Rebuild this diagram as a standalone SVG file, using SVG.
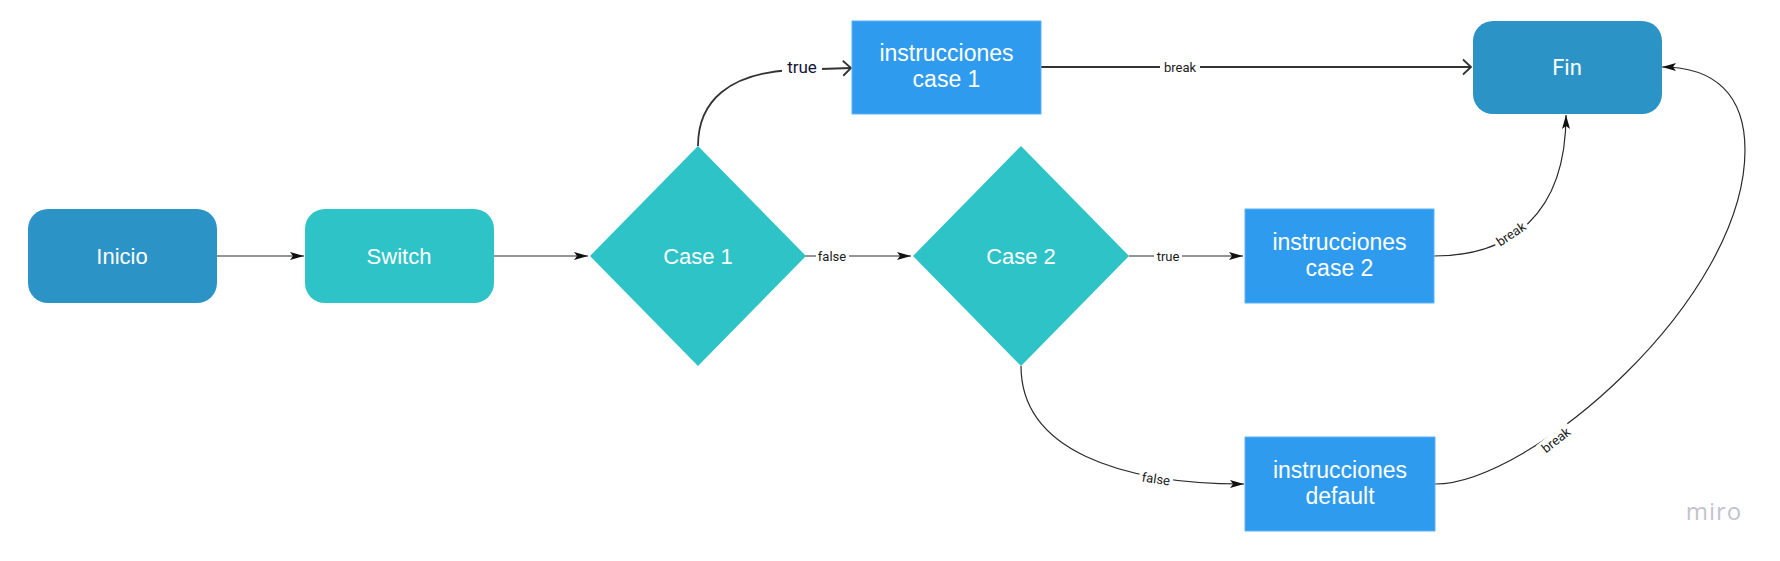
<svg xmlns="http://www.w3.org/2000/svg" width="1780" height="561" viewBox="0 0 1780 561">
<style>
.lbl{font-family:"Liberation Sans",Arial,sans-serif;font-size:22px;fill:#ffffff;text-anchor:middle}
.ins{font-family:"Liberation Sans",Arial,sans-serif;font-size:23px;fill:#ffffff;text-anchor:middle}
.fin{font-family:Roboto,"Liberation Sans",sans-serif;font-size:22px;fill:#ffffff;text-anchor:middle}
.edge{fill:none;stroke:#2b2b2b;stroke-width:1.2}
.edge2{fill:none;stroke:#333333;stroke-width:1.8}
.el{font-family:Roboto,"Liberation Sans",sans-serif;font-size:13px;fill:#1a1a1a;text-anchor:middle}
.bg{fill:#ffffff}
.start{fill:#2c93c7}
.teal{fill:#2dc3c7}
.inst{fill:#2f9bef;stroke:#5cb3f6;stroke-width:1}
</style>
<defs>
<marker id="fill" markerUnits="userSpaceOnUse" markerWidth="14" markerHeight="8" refX="14" refY="4" orient="auto" viewBox="0 0 14 8">
<path d="M0,0 L14,4 L0,8 L3,4 z" fill="#111111"/>
</marker>
<marker id="open" markerUnits="userSpaceOnUse" markerWidth="12" markerHeight="18" refX="10" refY="9" orient="auto" viewBox="0 0 12 18">
<path d="M2,1.5 L10,9 L2,16.5" fill="none" stroke="#333333" stroke-width="1.8"/>
</marker>
</defs>
<rect width="1780" height="561" fill="#ffffff"/>
<g id="connectors">
<path class="edge" d="M217,256 L304,256" marker-end="url(#fill)"/>
<path class="edge" d="M494,256 L588,256" marker-end="url(#fill)"/>
<path class="edge2" d="M698,146 C698,100 730,74 790,70 L851,68" marker-end="url(#open)"/>
<rect class="bg" x="782" y="58" width="40" height="20"/>
<text x="802" y="73" style="font-family:Roboto,'Liberation Sans',sans-serif;font-size:17px;fill:#14143a;text-anchor:middle">true</text>
<path class="edge2" d="M1041,67 L1471,67" marker-end="url(#open)"/>
<rect class="bg" x="1160" y="58" width="40" height="18"/>
<text class="el" x="1180" y="71.5">break</text>
<path class="edge" d="M805,256 L911,256" marker-end="url(#fill)"/>
<rect class="bg" x="816" y="247" width="33" height="18"/>
<text class="el" x="832" y="260.5">false</text>
<path class="edge" d="M1129,256 L1243,256" marker-end="url(#fill)"/>
<rect class="bg" x="1154" y="247" width="28" height="18"/>
<text class="el" x="1168" y="260.5">true</text>
<path class="edge" d="M1021,366 C1021,450 1120,484 1244,484" marker-end="url(#fill)"/>
<g transform="translate(1156,479) rotate(8)">
<rect class="bg" x="-17" y="-8" width="34" height="16"/>
<text class="el" x="0" y="4.5">false</text>
</g>
<path class="edge" d="M1434,256 C1510,256 1566,215 1566,115" marker-end="url(#fill)"/>
<g transform="translate(1511,234) rotate(-34)">
<rect class="bg" x="-19" y="-8" width="38" height="16"/>
<text class="el" x="0" y="4.5">break</text>
</g>
<path class="edge" d="M1435,484 C1530,484 1745,300 1745,150 C1745,95 1715,67 1662,67" marker-end="url(#fill)"/>
<g transform="translate(1556,440) rotate(-38)">
<rect class="bg" x="-19" y="-8" width="38" height="16"/>
<text class="el" x="0" y="4.5">break</text>
</g>
</g>
<g id="inicio">
<rect class="start" x="28" y="209" width="189" height="94" rx="20"/>
<text class="lbl" x="122" y="264">Inicio</text>
</g>
<g id="switch">
<rect class="teal" x="305" y="209" width="189" height="94" rx="20"/>
<text class="lbl" x="399" y="264">Switch</text>
</g>
<g id="case1">
<polygon class="teal" points="698,146 806,256 698,366 590,256"/>
<text class="lbl" x="698" y="264">Case 1</text>
</g>
<g id="case2">
<polygon class="teal" points="1021,146 1129,256 1021,366 913,256"/>
<text class="lbl" x="1021" y="264">Case 2</text>
</g>
<g id="inst1">
<rect class="inst" x="852" y="21" width="189" height="93"/>
<text class="ins" x="946.5" y="61">instrucciones</text>
<text class="ins" x="946.5" y="87">case 1</text>
</g>
<g id="fin">
<rect class="start" x="1473" y="21" width="189" height="93" rx="20"/>
<text class="fin" x="1567" y="75">Fin</text>
</g>
<g id="inst2">
<rect class="inst" x="1245" y="209" width="189" height="94"/>
<text class="ins" x="1339.5" y="250">instrucciones</text>
<text class="ins" x="1339.5" y="276">case 2</text>
</g>
<g id="default">
<rect class="inst" x="1245" y="437" width="190" height="94"/>
<text class="ins" x="1340" y="478">instrucciones</text>
<text class="ins" x="1340" y="504">default</text>
</g>
<text x="1714" y="520" style="font-family:'Open Sans','Liberation Sans',sans-serif;font-size:24px;fill:#c3c3cf;text-anchor:middle;letter-spacing:1px">miro</text>
</svg>
